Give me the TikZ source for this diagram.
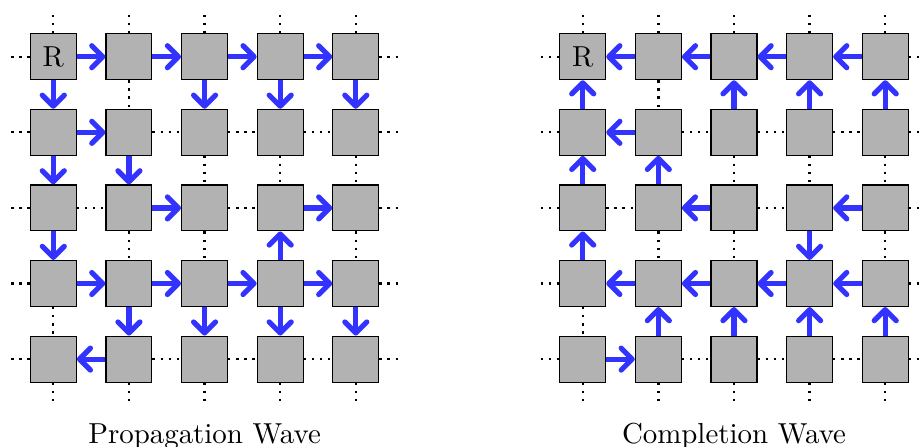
\documentclass[tikz,border=0pt]{standalone}
\usetikzlibrary{arrows.meta}
\begin{document}
\begin{tikzpicture}[x=0.346pt,y=-0.346pt,
  cell/.style={draw, fill=gray!60, minimum size=15.9pt, inner sep=0pt, line width=0.4pt},
  flow/.style={draw=blue!80, line width=1.8pt},
  eF/.style={flow, -{Straight Barb[length=3.8pt,width=7.6pt,round]}},
  eB/.style={flow, {Straight Barb[length=3.8pt,width=7.6pt,round]}-},
  eO/.style={dotted, thick},
  stub/.style={dotted, thick},
  caption/.style={anchor=base, inner sep=0pt}]
\useasboundingbox (0,0) rectangle (922,446);
% cells
\foreach \g/\x in {L/53.3, Q/582.7} {
  \foreach \r in {1,...,5} {
    \foreach \c in {1,...,5} {
      \node[cell] (\g-\r-\c) at ({\x+75.63*(\c-1)}, {56.7+75.6*(\r-1)}) {};
    }
  }
}
\node at (L-1-1) {R};
\node at (Q-1-1) {R};
% horizontal links, left grid
\foreach \r/\lst in {1/{F,F,F,F}, 2/{F,O,O,O}, 3/{O,F,O,F}, 4/{F,F,F,F}, 5/{B,O,O,O}} {
  \foreach \t [count=\c] in \lst {
    \pgfmathtruncatemacro{\n}{\c+1}
    \draw[e\t] (L-\r-\c.east) -- (L-\r-\n.west);
  }
}
% vertical links, left grid
\foreach \r/\lst in {1/{F,O,F,F,F}, 2/{F,F,O,O,O}, 3/{F,O,O,B,O}, 4/{O,F,F,F,F}} {
  \foreach \t [count=\c] in \lst {
    \pgfmathtruncatemacro{\n}{\r+1}
    \draw[e\t] (L-\r-\c.south) -- (L-\n-\c.north);
  }
}
% horizontal links, right grid
\foreach \r/\lst in {1/{B,B,B,B}, 2/{B,O,O,O}, 3/{O,B,O,B}, 4/{B,B,B,B}, 5/{F,O,O,O}} {
  \foreach \t [count=\c] in \lst {
    \pgfmathtruncatemacro{\n}{\c+1}
    \draw[e\t] (Q-\r-\c.east) -- (Q-\r-\n.west);
  }
}
% vertical links, right grid
\foreach \r/\lst in {1/{B,O,B,B,B}, 2/{B,B,O,O,O}, 3/{B,O,O,F,O}, 4/{O,B,B,B,B}} {
  \foreach \t [count=\c] in \lst {
    \pgfmathtruncatemacro{\n}{\r+1}
    \draw[e\t] (Q-\r-\c.south) -- (Q-\n-\c.north);
  }
}
% outer stubs
\foreach \g in {L,Q} {
  \foreach \i in {1,...,5} {
    \draw[stub] (\g-1-\i.north) -- ++(0,-18.6);
    \draw[stub] (\g-5-\i.south) -- ++(0,18.6);
    \draw[stub] (\g-\i-1.west) -- ++(-18.6,0);
    \draw[stub] (\g-\i-5.east) -- ++(18.6,0);
  }
}
\node[caption] (capL) at (204.6,443.5) {Propagation Wave};
\node[caption] (capQ) at (734.0,443.5) {Completion Wave};
\end{tikzpicture}
\end{document}
